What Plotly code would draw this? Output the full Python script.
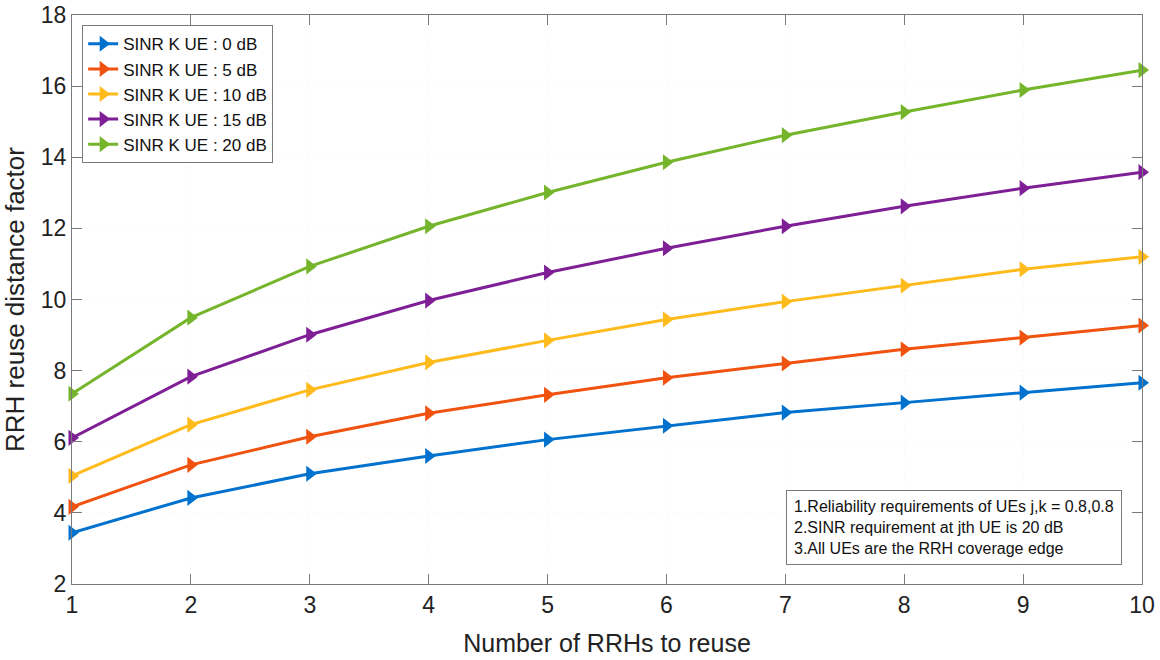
import plotly.graph_objects as go

x_vals = [1, 2, 3, 4, 5, 6, 7, 8, 9, 10]
sinr_0db = [3.44, 4.42, 5.10, 5.60, 6.06, 6.45, 6.82, 7.10, 7.38, 7.66]
sinr_5db = [4.17, 5.35, 6.14, 6.80, 7.32, 7.80, 8.20, 8.60, 8.93, 9.27]
sinr_10db = [5.04, 6.48, 7.46, 8.23, 8.85, 9.44, 9.94, 10.39, 10.85, 11.20]
sinr_15db = [6.11, 7.83, 9.01, 9.97, 10.76, 11.44, 12.06, 12.62, 13.13, 13.58]
sinr_20db = [7.35, 9.49, 10.93, 12.06, 13.01, 13.86, 14.62, 15.27, 15.89, 16.45]
y_ticks = [2, 4, 6, 8, 10, 12, 14, 16, 18]

series_names = ["SINR K UE : 0 dB", "SINR K UE : 5 dB", "SINR K UE : 10 dB",
                "SINR K UE : 15 dB", "SINR K UE : 20 dB"]
series_values = [sinr_0db, sinr_5db, sinr_10db, sinr_15db, sinr_20db]
colors = ["#0072CE", "#F0520F", "#FFBA1C", "#7E1F96", "#75B52B"]

fig = go.Figure()
for name, vals, col in zip(series_names, series_values, colors):
    fig.add_trace(go.Scatter(
        x=x_vals, y=vals, name=name, mode="lines+markers",
        line=dict(color=col, width=3),
        marker=dict(symbol="triangle-right", size=14, color=col),
        cliponaxis=False,
    ))

axis_common = dict(
    showline=True, linecolor="#7a7a7a", linewidth=1.3, mirror="ticks",
    ticks="inside", ticklen=10, tickcolor="#7a7a7a", tickwidth=1.3,
    showgrid=True, gridcolor="#f9f9f9", griddash="dot", zeroline=False,
    automargin=False,
    tickfont=dict(family="Liberation Sans, Arial", size=23, color="#222"),
)

fig.update_layout(
    width=1160, height=660,
    margin=dict(l=72, r=18, t=15, b=76),
    paper_bgcolor="white", plot_bgcolor="white",
    font=dict(family="Liberation Sans, Arial", color="#222"),
    xaxis=dict(range=[1, 10], tickvals=x_vals, **axis_common,
               title=dict(text="Number of RRHs to reuse",
                          font=dict(size=25, color="#222"), standoff=17)),
    yaxis=dict(range=[2, 18], tickvals=y_ticks, **axis_common,
               title=dict(text="RRH reuse distance factor",
                          font=dict(size=26, color="#222"), standoff=8)),
    legend=dict(x=0.0095, y=0.982, xanchor="left", yanchor="top",
                bgcolor="white", bordercolor="#7a7a7a", borderwidth=1,
                font=dict(size=17, color="#111"), tracegroupgap=0,
                itemwidth=30),
    showlegend=True,
)

fig.add_annotation(
    xref="paper", yref="paper", x=0.9815, y=0.033, xanchor="right", yanchor="bottom",
    align="left", showarrow=False,
    text="1.Reliability requirements of UEs j,k = 0.8,0.8<br>"
         "2.SINR requirement at jth UE is 20 dB<br>"
         "3.All UEs are the RRH coverage edge",
    font=dict(size=16, color="#111"),
    bgcolor="white", bordercolor="#7a7a7a", borderwidth=1, borderpad=7,
)

fig.write_html("out.html")
